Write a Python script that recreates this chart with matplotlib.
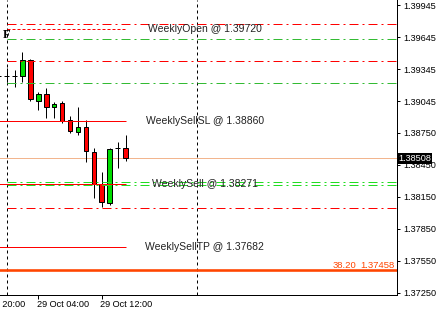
import matplotlib
matplotlib.use("Agg")
import matplotlib.pyplot as plt
from matplotlib.patches import Rectangle
from matplotlib.transforms import blended_transform_factory

plt.rcParams["font.family"] = ["Liberation Sans", "DejaVu Sans"]

# H1 candles, x = hours after 29 Oct 00:00
hours = [-1, 0, 1, 2, 3, 4, 5, 6, 7, 8, 9, 10, 11, 12, 13, 14, 15]
opens = [1.39283, 1.39280, 1.39283, 1.39283, 1.39430, 1.39049, 1.39111, 1.38992,
         1.39024, 1.38868, 1.38752, 1.38805, 1.38571, 1.38265, 1.38087, 1.38603, 1.38603]
highs = [1.39300, 1.39352, 1.39336, 1.39508, 1.39435, 1.39133, 1.39170, 1.39034,
         1.39046, 1.38908, 1.38992, 1.38868, 1.38603, 1.38378, 1.38603, 1.38659, 1.38727]
lows = [1.39270, 1.39224, 1.39180, 1.39226, 1.39049, 1.38961, 1.38889, 1.38889,
        1.38837, 1.38743, 1.38727, 1.38477, 1.38134, 1.38056, 1.38071, 1.38421, 1.38487]
closes = [1.39283, 1.39280, 1.39280, 1.39430, 1.39062, 1.39108, 1.38992, 1.39015,
          1.38861, 1.38765, 1.38805, 1.38577, 1.38265, 1.38097, 1.38596, 1.38603, 1.38508]

# horizontal levels
red_dashdot = [1.39764, 1.39418, 1.38041]
green_dashdot = [1.39624, 1.39214]
green_pair = [1.38284, 1.38256]
weekly_names = ["WeeklyOpen", "WeeklySellSL", "WeeklySell", "WeeklySellTP"]
weekly_values = [1.39720, 1.38860, 1.38271, 1.37682]
current_price = 1.38508
fib_level = 1.37458
fib_name = "38.20"
separators = [0, 24]

y_ticks = [1.39945, 1.39645, 1.39345, 1.39045, 1.38750, 1.38450,
           1.38150, 1.37850, 1.37550, 1.37250]
x_ticks = [-4, 4, 12]
x_labels = ["28 Oct 20:00", "29 Oct 04:00", "29 Oct 12:00"]

px = 0.72  # one pixel in points at 100 dpi

fig = plt.figure(figsize=(4.38, 3.10), dpi=100)
ax = fig.add_axes([0, 1 - 295 / 310, 397 / 438, 295 / 310])
ax.set_xlim(-0.832, 49.23)
ax.set_ylim(1.37228, 1.39992)

for s in ["left", "top"]:
    ax.spines[s].set_visible(False)
for s in ["right", "bottom"]:
    ax.spines[s].set_linewidth(px)

# period separators
for h in separators:
    ax.axvline(h, color="black", lw=px, ls=(0, (3, 3)), zorder=1)

ax.axhline(current_price, color="#f2b58e", lw=px, zorder=1)

# candles
bw = 0.57
for h, o, hi, lo, c in zip(hours, opens, highs, lows, closes):
    ax.vlines(h, lo, hi, color="black", lw=px, zorder=3)
    if abs(c - o) < 0.00002:
        ax.hlines(o, h - bw / 2, h + bw / 2, color="black", lw=px, zorder=4)
    else:
        fc = "#00dd00" if c > o else "#ff0000"
        ax.add_patch(Rectangle((h - bw / 2, min(o, c)), bw, abs(c - o),
                               facecolor=fc, edgecolor="black", lw=px, zorder=4))

xmax = 49.23
for v in red_dashdot:
    ax.hlines(v, 0, xmax, color="#ff0000", lw=px, ls=(0, (9, 4, 2, 4)), zorder=5)
for v in green_dashdot:
    ax.hlines(v, 0, xmax, color="#33bb33", lw=px, ls=(0, (9, 4, 2, 4)), zorder=5)
for v in green_pair:
    ax.hlines(v, 0, xmax, color="#22dd22", lw=px, ls=(0, (9, 4, 2, 4)), zorder=5)

for i, (name, v) in enumerate(zip(weekly_names, weekly_values)):
    if i == 0:
        ax.hlines(v, 0, 15, color="#ff0000", lw=px, ls=(0, (3, 2)), zorder=5)
    else:
        ax.hlines(v, -1, 15, color="#ff0000", lw=px, zorder=5)
    ax.text(25, v, f"{name} @ {v:.5f}", ha="center", va="center",
            fontsize=7.5, color="#222222", zorder=6)

ax.axhline(fib_level, color="#ff4500", lw=2.6 * px, zorder=5)
ax.text(44.1, fib_level + 0.00004, fib_name, ha="right", va="bottom",
        fontsize=6.8, color="#ff4500")
ax.text(48.9, fib_level + 0.00004, f"{fib_level:.5f}", ha="right", va="bottom",
        fontsize=6.8, color="#ff4500")

ax.text(-0.05, 1.39660, "F", ha="center", va="center", fontsize=9,
        fontweight="bold", family="Liberation Serif")

# axes ticks
ax.yaxis.tick_right()
ax.set_yticks(y_ticks)
ax.set_yticklabels([f"{t:.5f}" for t in y_ticks])
ax.tick_params(axis="y", length=2.2, width=px, pad=2.4, labelsize=6.6)
ax.set_xticks([t for t in x_ticks if t > -0.832])
ax.set_xticklabels([])
ax.tick_params(axis="x", length=3, width=px)

tr = blended_transform_factory(ax.transData, ax.transAxes)
for t, lab in zip(x_ticks, x_labels):
    ax.text(t - 0.2, -0.031, lab, transform=tr, ha="left", va="center",
            fontsize=6.6, clip_on=False)

ax.text(1.003, current_price, f"{current_price:.5f}",
        transform=blended_transform_factory(ax.transAxes, ax.transData),
        ha="left", va="center", fontsize=6.6, color="white",
        bbox=dict(boxstyle="square,pad=0.15", facecolor="black", edgecolor="none"),
        zorder=10, clip_on=False)

fig.savefig("out.png", dpi=100)
